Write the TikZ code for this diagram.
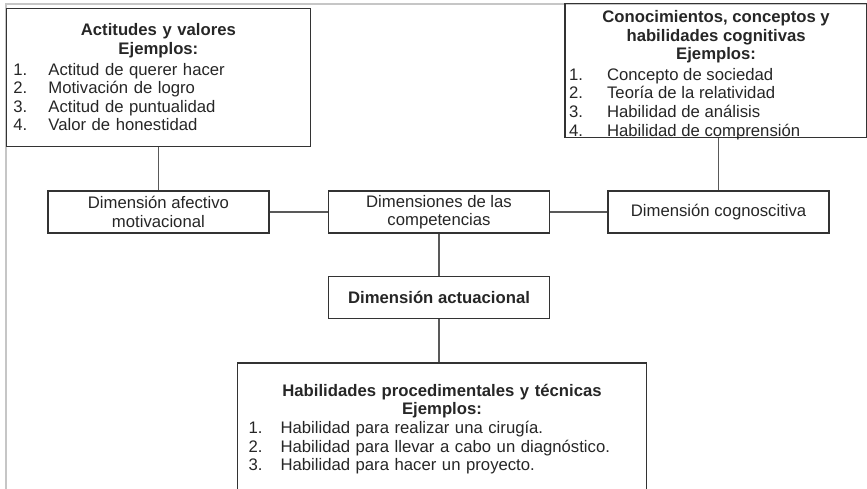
\documentclass[tikz,border=0pt]{standalone}
\usepackage{fontspec}
\setmainfont{Liberation Sans}
\usetikzlibrary{positioning}

\newcommand{\ej}[3][35pt]{\makebox[#1][l]{#2.}#3\par}

\begin{document}
\begin{tikzpicture}[x=1pt,y=-1pt,
    font=\fontsize{16.7}{18.6}\selectfont,
    every node/.style={text=black!85},
    caja/.style={draw=black!80, line width=1.6pt, inner sep=0pt,
        minimum width=221pt, minimum height=42pt, align=center},
    lista/.style={draw=black!80, line width=1.6pt, inner sep=0pt},
    liga/.style={draw=black!65, line width=1.6pt}]

    \useasboundingbox (0,0) rectangle (867,489);
    \clip (0,0) rectangle (867,489);
    \draw[gray!45, line width=1.5pt] (6,489) -- (6,4) -- (867,4);

    \node[caja] (cen) at (439,212) {Dimensiones de las\\competencias};
    \node[caja, left=58pt of cen] (afe) {Dimensión afectivo\\motivacional};
    \node[caja, right=57pt of cen] (cog) {Dimensión cognoscitiva};
    \node[caja, below=42pt of cen, font=\fontsize{16.7}{18.6}\selectfont\bfseries] (act) {Dimensión actuacional};

    \node[lista, above=43pt of afe, text width=290pt, minimum width=304pt,
        minimum height=138pt] (actv) {%
        {\centering\bfseries Actitudes y valores\\Ejemplos:\par}
        \vspace{2pt}
        \ej{1}{Actitud de querer hacer}
        \ej{2}{Motivación de logro}
        \ej{3}{Actitud de puntualidad}
        \ej{4}{Valor de honestidad}};
    \node[lista, above=52pt of cog, xshift=-2.5pt, minimum width=302pt,
        minimum height=134pt] (con) {%
        \parbox[c][120pt][t]{294pt}{%
        {\centering\bfseries Conocimientos, conceptos y\\habilidades cognitivas\\Ejemplos:\par}
        \vspace{2pt}
        \ej[38pt]{1}{Concepto de sociedad}
        \ej[38pt]{2}{Teoría de la relatividad}
        \ej[38pt]{3}{Habilidad de análisis}
        \ej[38pt]{4}{Habilidad de comprensión}}};
    \node[lista, below=43pt of act, xshift=3pt, text width=387pt,
        minimum width=409pt, minimum height=132pt] (proc) {%
        {\centering\bfseries Habilidades procedimentales y técnicas\\Ejemplos:\par}
        \ej[32pt]{1}{Habilidad para realizar una cirugía.}
        \ej[32pt]{2}{Habilidad para llevar a cabo un diagnóstico.}
        \ej[32pt]{3}{Habilidad para hacer un proyecto.}};

    \draw[liga] (afe) -- (cen);
    \draw[liga] (cen) -- (cog);
    \draw[liga] (cen) -- (act);
    \draw[liga] (act) -- (act |- proc.north);
    \draw[liga] (afe.north) -- (afe |- actv.south);
    \draw[liga] (cog.north) -- (cog |- con.south);
\end{tikzpicture}
\end{document}
